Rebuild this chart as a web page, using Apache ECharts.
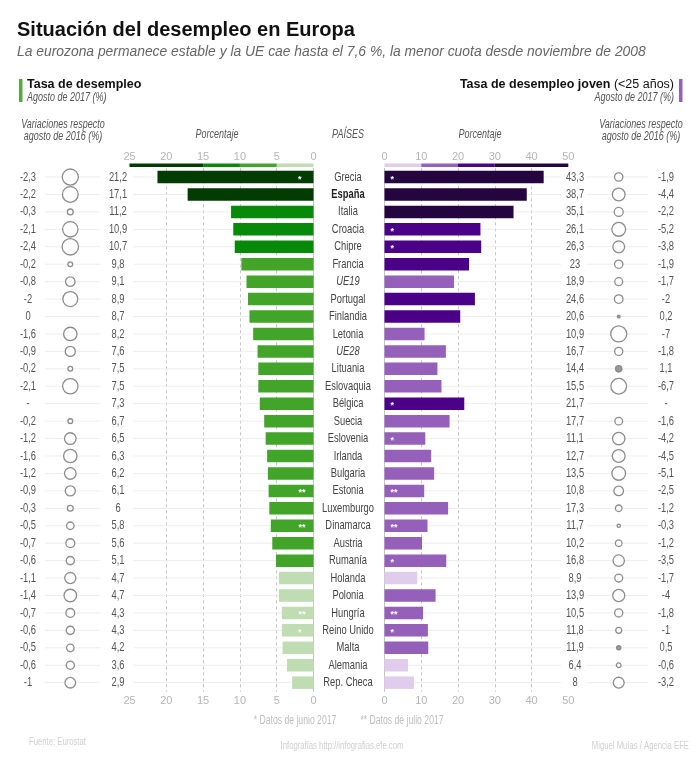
<!DOCTYPE html>
<html><head><meta charset="utf-8">
<style>html,body{margin:0;padding:0;background:#fff}#c{width:700px;height:760px}</style>
<script src="https://cdn.jsdelivr.net/npm/echarts@6/dist/echarts.min.js"></script>
</head><body><div id="c"></div>
<script>
const countries = ['Grecia','España','Italia','Croacia','Chipre','Francia','UE19','Portugal','Finlandia','Letonia','UE28','Lituania','Eslovaquia','Bélgica','Suecia','Eslovenia','Irlanda','Bulgaria','Estonia','Luxemburgo','Dinamarca','Austria','Rumanía','Holanda','Polonia','Hungría','Reino Unido','Malta','Alemania','Rep. Checa'];
const rate = [21.2,17.1,11.2,10.9,10.7,9.8,9.1,8.9,8.7,8.2,7.6,7.5,7.5,7.3,6.7,6.5,6.3,6.2,6.1,6,5.8,5.6,5.1,4.7,4.7,4.3,4.3,4.2,3.6,2.9];
const rateChange = [-2.3,-2.2,-0.3,-2.1,-2.4,-0.2,-0.8,-2,0,-1.6,-0.9,-0.2,-2.1,null,-0.2,-1.2,-1.6,-1.2,-0.9,-0.3,-0.5,-0.7,-0.6,-1.1,-1.4,-0.7,-0.6,-0.5,-0.6,-1];
const rateNotes = ['*','','','','','','','','','','','','','','','','','','**','','**','','','','','**','*','','',''];
const youth = [43.3,38.7,35.1,26.1,26.3,23,18.9,24.6,20.6,10.9,16.7,14.4,15.5,21.7,17.7,11.1,12.7,13.5,10.8,17.3,11.7,10.2,16.8,8.9,13.9,10.5,11.8,11.9,6.4,8];
const youthChange = [-1.9,-4.4,-2.2,-5.2,-3.8,-1.9,-1.7,-2,0.2,-7,-1.8,1.1,-6.7,null,-1.6,-4.2,-4.5,-5.1,-2.5,-1.2,-0.3,-1.2,-3.5,-1.7,-4,-1.8,-1,0.5,-0.6,-3.2];
const youthNotes = ['*','','','*','*','','','','','','','','','*','','*','','','**','','**','','*','','','**','*','','',''];
const rateBandWidths = [5,5,5,10];
const youthBandWidths = [10,10,10,20];
const greens = ['#bfdcb2','#42a52a','#078a0a','#033c03'];
const purples = ['#e0cceb','#9560b9','#4b0088','#24053f'];

const FONT = '"Liberation Sans",Arial,sans-serif';
const NARROW = 0.72;
const fmt = v => v === null ? '-' : String(v).replace('.', ',');
const colorOf = (v, step, palette) => palette[Math.min(3, Math.floor(v / step))];

const GT = 168.3, GH = 523.1;
const grid = [
  {left:129.5, top:GT, width:184, height:GH},
  {left:384.5, top:GT, width:183.8, height:GH},
  {left:45, top:GT, width:55, height:GH},
  {left:587, top:GT, width:61, height:GH},
  {left:129.5, top:163.5, width:184, height:3.5},
  {left:384.5, top:163.5, width:183.8, height:3.5}
];
function barAxes(i, max, interval, inverse){
  const base = {type:'value', gridIndex:i, min:0, max, interval, inverse,
    axisLine:{show:false}, axisTick:{show:false}};
  const lab = m => ({color:'#b5b5b5', fontFamily:FONT, fontSize:11, margin:m});
  return [
    {...base, position:'top', axisLabel:lab(6), splitLine:{show:false}},
    {...base, position:'bottom', axisLabel:lab(4), splitLine:{show:true, showMinLine:false, showMaxLine:false, lineStyle:{type:[3,3], color:'#c4c4c4', width:1}}}
  ];
}
const hiddenX = (i, min, max, inverse) => ({type:'value', gridIndex:i, min, max, inverse, show:false});
const xAxis = [
  ...barAxes(0,25,5,true),      // 0,1
  ...barAxes(1,50,10,false),    // 2,3
  hiddenX(2,-1,1,false),        // 4
  hiddenX(3,-1,1,false),        // 5
  hiddenX(4,0,25,true),         // 6
  hiddenX(5,0,50,false)         // 7
];
const catBase = {type:'category', data:countries, inverse:true, axisTick:{show:false}, axisLabel:{show:false}, splitLine:{show:false}};
const yAxis = [
  {...catBase, gridIndex:0, position:'right', axisLine:{show:true, onZero:false, lineStyle:{color:'#c4c4c4'}}},
  {...catBase, gridIndex:1, position:'left', axisLine:{show:true, onZero:false, lineStyle:{color:'#c4c4c4'}}},
  {...catBase, gridIndex:2, position:'left', axisLine:{show:false}},
  {...catBase, gridIndex:3, position:'left', axisLine:{show:false}},
  {type:'category', gridIndex:4, data:['Escala'], show:false},
  {type:'category', gridIndex:5, data:['Escala'], show:false}
];
// horizontal guide through the middle of each row, placed by the axes' scales
function rowLines(xi, yi, x0, x1){
  return {type:'custom', xAxisIndex:xi, yAxisIndex:yi, z:1, silent:true, clip:false,
    data:countries.map((c,i)=>[x0,i]), encode:{x:0,y:1},
    renderItem:(p,api)=>{
      const a = api.coord([x0, api.value(1)]), b = api.coord([x1, api.value(1)]);
      return {type:'line', shape:{x1:a[0],y1:a[1],x2:b[0],y2:b[1]}, style:{stroke:'#ededed', lineWidth:1}};
    }};
}
// a column of narrow text, one label per row
function rowText(xi, yi, px, texts, styler){
  return {type:'custom', xAxisIndex:xi, yAxisIndex:yi, z:4, silent:true, clip:false,
    data:countries.map((c,i)=>[0,i]), encode:{x:0,y:1},
    renderItem:(p,api)=>{
      const i = api.value(1), y = api.coord([0,i])[1];
      const s = styler ? styler(i) : {};
      return {type:'text', x:px, y:y, scaleX:NARROW, style:{x:0,y:0,text:texts[i], align:'center', verticalAlign:'middle',
        fontFamily:FONT, fontSize:13, fill:s.fill||'#555', fontWeight:s.weight||'normal', fontStyle:s.style||'normal'}};
    }};
}
function barSeries(xi, yi, values, notes, step, palette, pos, oneStar, twoStars){
  return {type:'bar', xAxisIndex:xi, yAxisIndex:yi, z:3, barWidth:12.5,
    data:values.map((v,i)=>({value:v, label:{distance:notes[i]==='**'?twoStars:oneStar}})),
    itemStyle:{color:p=>colorOf(p.value, step, palette)},
    label:{show:true, position:pos, offset:[0,2], color:'#fff', fontWeight:'bold', fontSize:9, fontFamily:FONT,
      formatter:p=>notes[p.dataIndex]}};
}
function bubbles(xi, yi, values, k, xPos){
  return {type:'scatter', xAxisIndex:xi, yAxisIndex:yi, z:3,
    data:values.map((v,i)=>[xPos,i,v]).filter(d=>d[2]!==null && d[2]!==0),
    symbol:'circle', symbolSize:d=>k*Math.sqrt(Math.abs(d[2])),
    itemStyle:{color:p=>p.value[2]>0?'#999999':'#ffffff', borderColor:'#8c8c8c', borderWidth:1.3, opacity:1}};
}
function bandSeries(xi, yi, widths, palette, name){
  return widths.map((w,i)=>({type:'bar', xAxisIndex:xi, yAxisIndex:yi, stack:name, barWidth:'100%', data:[w], itemStyle:{color:palette[i]}}));
}
const series = [
  rowLines(1,0,24.5,0),
  barSeries(1,0,rate,rateNotes,5,greens,'insideRight',12,8),
  rowLines(3,1,0,48),
  barSeries(3,1,youth,youthNotes,10,purples,'insideLeft',6,6),
  rowLines(4,2,-1,1),
  bubbles(4,2,rateChange,10.6,-0.08),
  rowLines(5,3,-1,1),
  bubbles(5,3,youthChange,6.05,0.04),
  rowText(4,2,28,rateChange.map(fmt)),
  rowText(4,2,118,rate.map(fmt)),
  rowText(5,3,575,youth.map(fmt)),
  rowText(5,3,666,youthChange.map(fmt)),
  rowText(3,1,348,countries,i=>countries[i]==='España'?{weight:'bold',fill:'#222'}:(countries[i].startsWith('UE')?{style:'italic',fill:'#444'}:{fill:'#444'})),
  ...bandSeries(6,4,rateBandWidths,greens,'r'),
  ...bandSeries(7,5,youthBandWidths,purples,'y')
];
const t = (x,y,text,o={}) => ({type:'text', x, y, scaleX:o.sx||1, silent:true, style:{x:0,y:0,text,
  fontFamily:FONT, fontSize:o.size||12.5, fontWeight:o.weight||'normal', fontStyle:o.style||'normal',
  fill:o.fill||'#555', align:o.align||'left', verticalAlign:'middle', rich:o.rich}});
const n = {sx:NARROW};
const graphic = [
  t(17,30,'Situación del desempleo en Europa',{size:20,weight:'bold',fill:'#111'}),
  t(17,52,'La eurozona permanece estable y la UE cae hasta el 7,6 %, la menor cuota desde noviembre de 2008',{size:14,sx:0.99,style:'italic',fill:'#666'}),
  {type:'rect', shape:{x:19,y:79,width:3.5,height:23}, style:{fill:'#5aa845'}},
  t(27,85,'Tasa de desempleo',{size:12.5,weight:'bold',fill:'#111'}),
  t(27,98,'Agosto de 2017 (%)',{...n,style:'italic'}),
  {type:'rect', shape:{x:679,y:79,width:3.5,height:23}, style:{fill:'#9560b9'}},
  t(674,85,'{b|Tasa de desempleo joven} (<25 años)',{size:12.5,fill:'#111',align:'right',rich:{b:{fontWeight:'bold',fontFamily:FONT,fontSize:12.5,fill:'#111'}}}),
  t(674,98,'Agosto de 2017 (%)',{...n,style:'italic',align:'right'}),
  t(63,125,'Variaciones respecto',{...n,style:'italic',align:'center'}),
  t(63,137,'agosto de 2016 (%)',{...n,style:'italic',align:'center'}),
  t(217,135,'Porcentaje',{...n,style:'italic',align:'center'}),
  t(348,135,'PAÍSES',{...n,style:'italic',align:'center'}),
  t(480,135,'Porcentaje',{...n,style:'italic',align:'center'}),
  t(641,125,'Variaciones respecto',{...n,style:'italic',align:'center'}),
  t(641,137,'agosto de 2016 (%)',{...n,style:'italic',align:'center'}),
  t(295,721,'* Datos de junio 2017',{...n,size:12,fill:'#bdbdbd',align:'center'}),
  t(402,721,'** Datos de julio 2017',{...n,size:12,fill:'#bdbdbd',align:'center'}),
  t(29,742,'Fuente: Eurostat',{sx:0.7,size:11,fill:'#d0d0d0'}),
  t(342,746,'Infografías http://infografias.efe.com',{sx:0.7,size:11,fill:'#cfcfcf',align:'center'}),
  t(689,746,'Miguel Muías / Agencia EFE',{sx:0.7,size:11,fill:'#cfcfcf',align:'right'})
];
const chart = echarts.init(document.getElementById('c'), null, {renderer:'canvas'});
chart.setOption({animation:false, backgroundColor:'#fff', grid, xAxis, yAxis, series, graphic, tooltip:{show:false}});
</script></body></html>
